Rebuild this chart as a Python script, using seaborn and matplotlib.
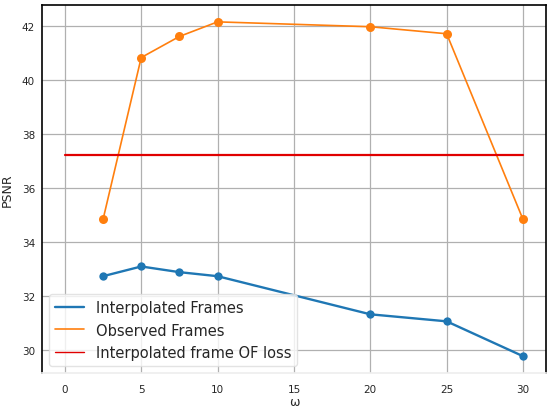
import numpy as np
import pandas as pd
import matplotlib
matplotlib.use("Agg")
import matplotlib.pyplot as plt
import seaborn as sns

# ─── DATA ─────────────────────────────────────────────────────────────────────
OMEGA = [2.5, 5, 7.5, 10, 20, 25, 30]
INTERP_PSNR = [32.73, 33.09, 32.88, 32.73, 31.32, 31.06, 29.77]
OBSERVED_PSNR = [34.83, 40.82, 41.60, 42.14, 41.96, 41.70, 34.83]
OF_LOSS_X = [0, 30]
OF_LOSS_PSNR = [37.22, 37.22]

LABELS = ["Interpolated Frames", "Observed Frames", "Interpolated frame OF loss"]
COLORS = ["#1f77b4", "#ff7f0e", "#e00000"]

# ─── STYLE ────────────────────────────────────────────────────────────────────
sns.set_theme(style="whitegrid")
plt.rcParams["font.family"] = ["DejaVu Sans"]
plt.rcParams["grid.color"] = "#b0b0b0"
plt.rcParams["grid.linewidth"] = 0.9


def main():
    df_interp = pd.DataFrame({"omega": OMEGA, "psnr": INTERP_PSNR, "series": LABELS[0]})
    df_obs = pd.DataFrame({"omega": OMEGA, "psnr": OBSERVED_PSNR, "series": LABELS[1]})
    df_of = pd.DataFrame({"omega": OF_LOSS_X, "psnr": OF_LOSS_PSNR, "series": LABELS[2]})

    fig = plt.figure(figsize=(5.52, 4.10), dpi=100)
    ax = fig.add_axes([0.076, 0.088, 0.913, 0.897])

    sns.lineplot(data=df_interp, x="omega", y="psnr", color=COLORS[0], linewidth=1.7,
                 marker="o", markersize=6, markeredgewidth=0, label=LABELS[0], ax=ax)
    sns.lineplot(data=df_obs, x="omega", y="psnr", color=COLORS[1], linewidth=1.2,
                 marker="o", markersize=6.5, markeredgewidth=0, label=LABELS[1], ax=ax)
    sns.lineplot(data=df_of, x="omega", y="psnr", color=COLORS[2], linewidth=1.6,
                 label=LABELS[2], ax=ax)

    ax.set_xlabel("ω", fontsize=9, labelpad=1)
    ax.set_ylabel("PSNR", fontsize=9, labelpad=6)
    ax.set_xticks([0, 5, 10, 15, 20, 25, 30])
    ax.set_yticks([30, 32, 34, 36, 38, 40, 42])
    ax.tick_params(axis="x", labelsize=7.5, length=0, pad=8)
    ax.tick_params(axis="y", labelsize=7.5, length=0, pad=5)

    for side in ["left", "top", "right"]:
        ax.spines[side].set_color("black")
        ax.spines[side].set_linewidth(1.2)
    ax.spines["bottom"].set_color("#eeeeee")

    leg = ax.legend(loc="lower left", fontsize=10.5, frameon=True, facecolor="white",
                    framealpha=0.8, edgecolor="#dddddd", borderaxespad=0.5)
    for h in leg.legend_handles:
        h.set_marker("")
    leg.legend_handles[2].set_linewidth(1.0)

    fig.savefig("out.png", dpi=100)


if __name__ == "__main__":
    main()
